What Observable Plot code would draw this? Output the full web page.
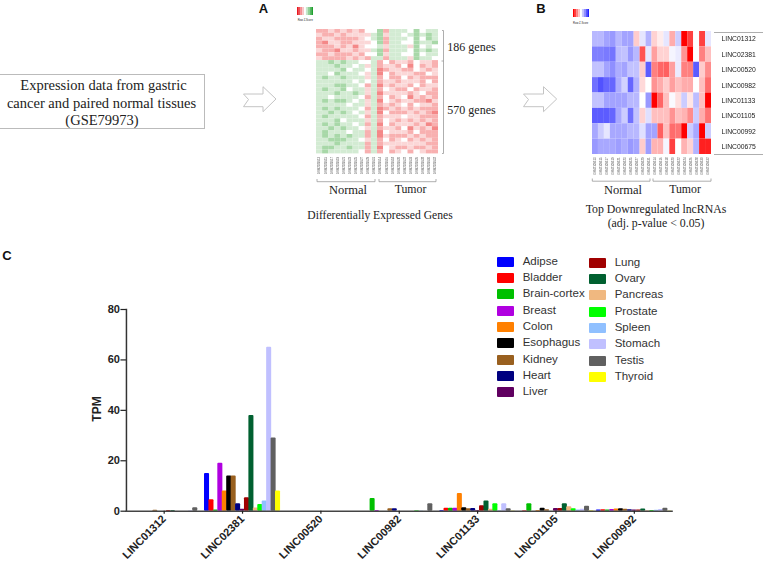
<!DOCTYPE html>
<html><head><meta charset="utf-8">
<script src="https://cdn.jsdelivr.net/npm/d3@7"></script>
<script src="https://cdn.jsdelivr.net/npm/@observablehq/plot@0.6"></script>
<style>
html,body{margin:0;padding:0;background:#fff}
#page{position:relative;width:763px;height:566px;overflow:hidden;background:#fff}
.t{position:absolute;transform:translate(-50%,-50%);white-space:nowrap;line-height:1;color:#222}
.serif{font-family:"Liberation Serif",serif}
.sans{font-family:"Liberation Sans",sans-serif}
.blur{filter:blur(.5px)}
.blurB{filter:blur(.35px)}
#box{position:absolute;left:0;top:74px;width:204px;height:53px;border:1px solid #bbb;border-left:none;box-sizing:content-box}
.sw{position:absolute;width:17px;height:10px;border-radius:1px;transform:translateY(-50%)}
.lg{position:absolute;font:11.5px "Liberation Sans",sans-serif;color:#333;transform:translateY(-50%);line-height:1;white-space:nowrap}
</style></head><body><div id="page">
<svg width="763" height="566" style="position:absolute;left:0;top:0" fill="none">
  <g stroke="#c4c4c4" stroke-width="1">
    <path d="M243.5 94H263V86.7L276 99L263 111.7V106.7H243.5L248.5 99.5Z"/>
    <path d="M523.5 94H543.5V86.7L556.7 99L543.5 111.7V106.7H523.5L528.5 99.5Z"/>
  </g>
  <g stroke="#999" stroke-width=".8">
    <path d="M442 30.5H443.5V153.5H442M443.5 61H441.5"/>
    <path d="M317 179V181.7H375V179M379 179V181.7H436V179"/>
    <path d="M592.3 178.5V181.2H650V178.5M653 178.5V181.2H711V178.5"/>
    <path d="M714 32.5H763M714 154.5H763"/>
  </g>
</svg>
<div id="box"></div>
</div>
<script>
// ---------- Panel C: expression (TPM) by tissue ----------
const tissues = ["Adipse","Bladder","Brain-cortex","Breast","Colon","Esophagus","Kidney","Heart","Liver","Lung","Ovary","Pancreas","Prostate","Spleen","Stomach","Testis","Thyroid"];
const tissueColors = ["#0000ff","#ff0000","#00c000","#b000e0","#ff8000","#000000","#99601f","#000080","#600060","#a00000","#006030","#f0b880","#00ff00","#90c0ff","#c0c0ff","#606060","#ffff00"];
const genes = ["LINC01312","LINC02381","LINC00520","LINC00982","LINC01133","LINC01105","LINC00992"];
const tpmLINC01312 = [0,0,0,0,0,0,0.4,0,0,0.3,0.3,0,0,0,0.2,1.4,0];
const tpmLINC02381 = [15,4.5,0.5,19,8,14,14,3,0.8,5.3,38,1.3,2.7,4,65,29,8];
const tpmLINC00520 = [0,0,0,0,0,0,0,0,0,0,0,0,0,0,0,0,0];
const tpmLINC00982 = [0,0,5,0.3,0,0,1,1,0,0,0,0,0.2,0.1,0,3,0];
const tpmLINC01133 = [0.3,1.2,1.2,1.2,7,1.4,1,1.1,0.3,2.2,4,0.8,3,0.2,3,1,0.1];
const tpmLINC01105 = [0,0.2,3,0,0.3,1.2,0.6,0,1.1,1.1,3,1.8,1,0.5,0.8,2,0.2];
const tpmLINC00992 = [0.5,0.6,0.5,0.7,0.9,1,0.8,0.6,0.5,0.5,0.9,0.2,0.3,0.4,0.7,1.2,0.1];
const tpmAll = [tpmLINC01312,tpmLINC02381,tpmLINC00520,tpmLINC00982,tpmLINC01133,tpmLINC01105,tpmLINC00992];
const tpmTicks = [0,20,40,60,80];

// ---------- Panel A: estimated colour bands per sample (1 red .. 5 white .. 9 green) ----------
const samplesA = ["GSM2109513","GSM2109515","GSM2109517","GSM2109519","GSM2109521","GSM2109523","GSM2109525","GSM2109527","GSM2109529","GSM2109531","GSM2109514","GSM2109516","GSM2109518","GSM2109520","GSM2109522","GSM2109524","GSM2109526","GSM2109528","GSM2109530","GSM2109532"];
const bandsUp = ["33434343557366657566","43343444467466567676","34433334567366657576","32443344457366557667","33343424556466647565","43324434467366657676","33433343557466557566","43333434366366647665"];
const bandsDown = ["66767665563534435443","66676656463443525343","66667566562344335434","66576665462534443354","67667666463533534333","66666656563443444353","66677665362434435344","67667566463543353443","66676676462444434533","66566665363534524343","67677656462543443324","66666566463434535443","67676665362343434333","66767656462533343432","67666665363444544333","66675666463543434343","67676656362534443423","66767665463443524342","67666566362544435333","67676766362433343433","66777665463534534343","66676666363444444433","67766766362543343343","67666665363534535433"];

// ---------- Panel B: estimated z-score colours (0 red .. 4 white .. 9 blue) ----------
const rowsB = ["LINC01312","LINC02381","LINC00520","LINC00982","LINC01133","LINC01105","LINC00992","LINC00675"];
const zLINC01312 = [5.4,5.4,5.8,6,5.4,5.8,5.8,3.2,4.5,5.5,3.3,3.7,4.5,2.7,5,0,1,4,1,4.5];
const zLINC02381 = [6.5,6.5,6.6,6.7,5.3,5.2,6,5.4,1.3,4.5,2.5,3.3,3.3,4.2,4.4,2.3,0,4,2,3];
const zLINC00520 = [5.2,5.2,5.8,6.2,5.6,5.8,5.2,5.2,3.2,7.2,2,1.6,1.5,2.5,4.4,2,2,7.2,3.2,2.2];
const zLINC00982 = [6.8,7.4,7,7,5.6,4.9,7,5.5,3.4,4,2.3,2.7,3.2,2.5,3,2.7,2.7,4,3,1.7];
const zLINC01133 = [5.2,5.2,5.8,5.8,5.8,5.8,5.4,5.4,4,6,0,1.6,3,4.1,3.5,5,3.6,5.3,3,0];
const zLINC01105 = [7.2,7.2,7.2,7,5.7,5,6.8,5.2,3.3,4.6,3,3,3,2.3,3,2.8,2.2,5,2.7,1.8];
const zLINC00992 = [5.7,5,4.5,5.7,5.7,5.7,5.4,5.4,4.6,5.8,5.8,1.5,3,1.7,1.8,0,5,5.7,0,5];
const zLINC00675 = [6,5.7,5.7,5.7,5.9,5.6,6,5.8,3.2,5.9,2.8,2.8,4.2,1,4,2.8,3.3,5.5,0.5,0.5];
const zAll = [zLINC01312,zLINC02381,zLINC00520,zLINC00982,zLINC01133,zLINC01105,zLINC00992,zLINC00675];

// Legend colour-key steps
const keySteps = [0,1,2,3,4,5,6,7,8];

const page = document.getElementById("page");
const place = (el,x,y,cls) => {el.style.position="absolute";el.style.left=x+"px";el.style.top=y+"px";if(cls)el.classList.add(cls);page.appendChild(el);};

// Panel C
const tpmRows = genes.flatMap((g,i)=>tissues.map((t,j)=>({gene:g,tissue:t,value:tpmAll[i][j]})));
const chartC = Plot.plot({
  width:763,height:566,marginLeft:124.5,marginRight:90,marginTop:309,marginBottom:55.3,
  style:{background:"transparent",overflow:"visible"},
  fx:{domain:genes,paddingInner:0.037,paddingOuter:0.0185,axis:null,round:false,label:null},
  x:{domain:tissues,padding:0,axis:null,round:false},
  y:{domain:[0,80],axis:null},
  color:{domain:tissues,range:tissueColors},
  marks:[
    Plot.barY(tpmRows,{fx:"gene",x:"tissue",y:"value",fill:"tissue",insetLeft:-0.3,insetRight:-0.3,rx:1}),
    Plot.frame({anchor:"left",stroke:"#333",strokeWidth:1.5,facet:"super"}),
    Plot.frame({anchor:"bottom",stroke:"#444",strokeWidth:1.5,facet:"super"}),
    Plot.axisY({ticks:tpmTicks,tickSize:5.5,tickPadding:1,label:null,fontSize:11,fontWeight:"bold",fontFamily:"Liberation Sans",stroke:"#222",strokeWidth:1.2,color:"#222"}),
    Plot.axisFx({anchor:"bottom",label:null,tickSize:3,tickPadding:3,tickRotate:-45,fontSize:11,fontWeight:"bold",fontFamily:"Liberation Sans",stroke:"#222",strokeWidth:1.2,color:"#222"})
  ]
});
place(chartC,0,0);

// Panel A heat map
const bandsAll = bandsUp.concat(bandsDown);
const cellsA = bandsAll.flatMap((r,i)=>samplesA.map((s,j)=>({row:i,sample:s,v:+r[j]})));
const heatA = Plot.plot({
  width:122,height:145,marginLeft:0,marginRight:0,marginTop:0,marginBottom:20.6,
  style:{background:"transparent",overflow:"visible"},
  x:{domain:samplesA,padding:0,round:false,axis:null},
  y:{domain:d3.range(bandsAll.length),padding:0,round:false,axis:null},
  color:{type:"linear",domain:[1,5,9],range:["#f06060","#ffffff","#50b050"]},
  marks:[
    Plot.cell(cellsA,{x:"sample",y:"row",fill:"v"}),
    Plot.axisX({anchor:"bottom",tickSize:0,tickPadding:3,tickRotate:-90,fontSize:2.8,fontFamily:"Liberation Sans",label:null,color:"#555"})
  ]
});
place(heatA,316,29.3,"blur");

// Panel B heat map
const cellsB = rowsB.flatMap((r,i)=>samplesA.map((s,j)=>({gene:r,sample:s,v:zAll[i][j]})));
const heatB = Plot.plot({
  width:171,height:143,marginLeft:0,marginRight:52,marginTop:0,marginBottom:20,
  style:{background:"transparent",overflow:"visible"},
  x:{domain:samplesA,padding:0,round:false,axis:null},
  y:{domain:rowsB,padding:0,round:false,axis:null},
  color:{type:"linear",domain:[0,4,9],range:["#ff0000","#ffffff","#0000ff"]},
  marks:[
    Plot.cell(cellsB,{x:"sample",y:"gene",fill:"v"}),
    Plot.axisX({anchor:"bottom",tickSize:0,tickPadding:3,tickRotate:-90,fontSize:2.8,fontFamily:"Liberation Sans",label:null,color:"#555"}),
    Plot.axisY({anchor:"right",tickSize:0,tickPadding:10,fontSize:6.8,fontFamily:"Liberation Sans",label:null,color:"#222"})
  ]
});
place(heatB,592,31.3,"blurB");

// Colour keys
const key = (colors) => Plot.plot({
  width:16,height:8,margin:0,
  style:{background:"transparent"},
  x:{domain:keySteps,padding:0,round:false,axis:null},
  y:{axis:null},
  color:{type:"linear",domain:[0,4,8],range:colors},
  marks:[Plot.cell(keySteps,{x:d=>d,fill:d=>d})]
});
place(key(["#e81820","#ffffff","#20a030"]),297.3,7.3,"blur");
place(key(["#ff0000","#ffffff","#2020ff"]),572.7,9,"blur");

// Text
const text = (s,x,y,size,cls,extra) => {const e=document.createElement("div");e.className="t "+cls;e.textContent=s;e.style.left=x+"px";e.style.top=y+"px";e.style.fontSize=size+"px";if(extra)Object.assign(e.style,extra);page.appendChild(e);};
text("Expression data from gastric",103.5,85,14.5,"serif");
text("cancer and paired normal tissues",101.5,102.5,14.5,"serif");
text("(GSE79973)",102,120,14.5,"serif");
const bold={fontWeight:"bold",color:"#111"};
text("A",263.5,8,13,"sans",bold);
text("B",541,8,13,"sans",bold);
text("C",7,255,13,"sans",bold);
text("186 genes",471.5,47,12,"serif");
text("570 genes",471.5,110,12,"serif");
text("Normal",348,190,12.5,"serif");
text("Tumor",410.5,190,11.8,"serif");
text("Differentially Expressed Genes",380,216,11.6,"serif");
text("Normal",623,189.5,12.5,"serif");
text("Tumor",685,189.5,11.8,"serif");
text("Top Downregulated lncRNAs",656,209.5,11.8,"serif");
text("(adj. p-value < 0.05)",656,224,11.8,"serif");
text("Row Z-Score",305.3,21,2.6,"sans");
text("Row Z-Score",580.7,24,2.6,"sans");
text("TPM",97,409,12,"sans",{fontWeight:"bold",transform:"translate(-50%,-50%) rotate(-90deg)"});

// Tissue legend
const colA = 9;
tissues.forEach((t,i)=>{
  const inFirst = i<colA, k = inFirst?i:i-colA;
  const y = (inFirst?261.7:262.7)+k*16.3;
  const sw=document.createElement("div");sw.className="sw";sw.style.left=(inFirst?497.3:589.3)+"px";sw.style.top=y+"px";sw.style.background=tissueColors[i];page.appendChild(sw);
  const l=document.createElement("div");l.className="lg";l.textContent=t;l.style.left=(inFirst?522.7:614.7)+"px";l.style.top=y+"px";page.appendChild(l);
});
</script></body></html>
